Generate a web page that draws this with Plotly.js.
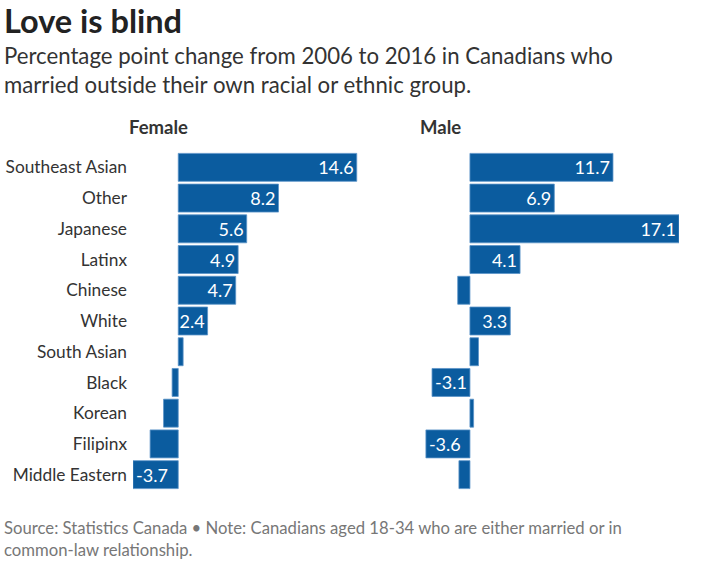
<!DOCTYPE html>
<html>
<head>
<meta charset="utf-8">
<script src="https://cdn.plot.ly/plotly-3.0.1.min.js"></script>
<style>
  html, body { margin: 0; padding: 0; background: #fff; }
  #chart { width: 705px; height: 562px; }
</style>
</head>
<body>
<div id="chart"></div>
<script>
// Percentage point change 2006–2016, by group
const groups = ["Southeast Asian", "Other", "Japanese", "Latinx", "Chinese", "White",
                "South Asian", "Black", "Korean", "Filipinx", "Middle Eastern"];
const female = [14.6, 8.2, 5.6, 4.9, 4.7, 2.4, 0.4, -0.5, -1.2, -2.3, -3.7];
const male   = [11.7, 6.9, 17.1, 4.1, -1.0, 3.3, 0.7, -3.1, 0.3, -3.6, -0.9];
const panelTitles = ["Female", "Male"];

const W = 705, H = 562;
const M = { l: 133, r: 26, t: 152, b: 72 };
const plotW = W - M.l - M.r, plotH = H - M.t - M.b;
// pixel -> paper coordinates for annotations placed around the panels
const px = x => (x - M.l) / plotW;
const py = y => 1 - (y - M.t) / plotH;

const blue = "#0b5c9f";
const font = "Lato, 'Source Sans Pro', 'Open Sans', sans-serif";

// only label bars wide enough to hold their value
const labelOf = v => Math.abs(v) >= 2.4 ? v.toFixed(1) : "";

const shared = {
  type: "bar",
  orientation: "h",
  y: groups,
  marker: { color: blue, line: { color: "#5a93c8", width: 0.8 } },
  textposition: "inside",
  insidetextanchor: "end",
  textangle: 0,
  constraintext: "none",
  cliponaxis: false,
  textfont: { family: font, size: 18, color: "#ffffff" },
  hoverinfo: "skip"
};

const traces = [
  Object.assign({}, shared, { x: female, text: female.map(labelOf), xaxis: "x", yaxis: "y" }),
  Object.assign({}, shared, { x: male, text: male.map(labelOf), xaxis: "x2", yaxis: "y2" })
];

const xRange = [Math.min(...female, ...male), Math.max(...female, ...male)];
const xBase = { range: xRange, showgrid: false, zeroline: false, showticklabels: false, showline: false, fixedrange: true };
const yBase = { type: "category", autorange: "reversed", showgrid: false, zeroline: false, showline: false, fixedrange: true };

const split = (424.7 - M.l) / plotW;
const layout = {
  width: W, height: H,
  margin: M,
  paper_bgcolor: "#fff", plot_bgcolor: "#fff",
  showlegend: false,
  bargap: 0.09,
  font: { family: font, color: "#333" },
  xaxis: Object.assign({}, xBase, { domain: [0, (387.3 - M.l) / plotW] }),
  xaxis2: Object.assign({}, xBase, { domain: [split, 1] }),
  yaxis: Object.assign({}, yBase, {
    anchor: "x", showticklabels: true, ticks: "", ticklabelstandoff: 5,
    tickfont: { family: font, size: 17.3, color: "#333" }
  }),
  yaxis2: Object.assign({}, yBase, { anchor: "x2", showticklabels: false }),
  annotations: [
    { text: "<b>Love is blind</b>", x: px(2), y: py(21), xanchor: "left", yanchor: "middle",
      font: { family: font, size: 32.5, color: "#222" } },
    { text: "Percentage point change from 2006 to 2016 in Canadians who<br>married outside their own racial or ethnic group.",
      x: px(2), y: py(70), xanchor: "left", yanchor: "middle", align: "left",
      font: { family: font, size: 22.2, color: "#333" } },
    { text: "<b>" + panelTitles[0] + "</b>", x: px(127), y: py(127), xanchor: "left", yanchor: "middle",
      font: { family: font, size: 18.5, color: "#333" } },
    { text: "<b>" + panelTitles[1] + "</b>", x: px(418), y: py(127), xanchor: "left", yanchor: "middle",
      font: { family: font, size: 18.5, color: "#333" } },
    { text: "Source: Statistics Canada • Note: Canadians aged 18-34 who are either married or in<br>common-law relationship.",
      x: px(2), y: py(539), xanchor: "left", yanchor: "middle", align: "left",
      font: { family: font, size: 16.7, color: "#777" } }
  ].map(a => Object.assign({ xref: "paper", yref: "paper", showarrow: false }, a))
};

Plotly.newPlot("chart", traces, layout, { displayModeBar: false, staticPlot: true });
</script>
</body>
</html>
